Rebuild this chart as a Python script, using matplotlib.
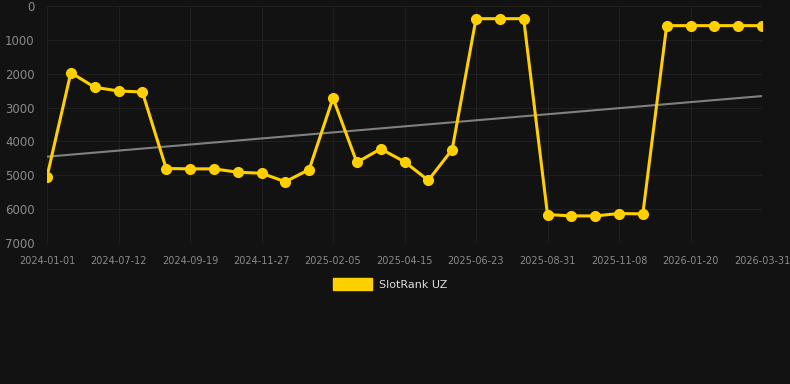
import numpy as np
import matplotlib
matplotlib.use("Agg")
import matplotlib.pyplot as plt

dates = ["2024-01-01", "2024-04-10", "2024-05-30", "2024-07-12", "2024-07-30",
         "2024-08-20", "2024-09-19", "2024-10-10", "2024-11-05", "2024-11-27",
         "2024-12-20", "2025-01-10", "2025-02-05", "2025-02-25", "2025-03-20",
         "2025-04-15", "2025-05-05", "2025-05-30", "2025-06-23", "2025-07-15",
         "2025-08-08", "2025-08-31", "2025-09-25", "2025-10-15", "2025-11-08",
         "2025-12-01", "2025-12-25", "2026-01-20", "2026-02-10", "2026-03-05",
         "2026-03-31"]
rank = [5040, 1970, 2400, 2510, 2540, 4800, 4810, 4810, 4910, 4940,
        5190, 4830, 2720, 4620, 4220, 4600, 5150, 4240, 375, 375,
        375, 6160, 6200, 6200, 6130, 6140, 580, 580, 580, 580, 580]
trend = [4450, 2660]  # start / end of trend line

bg = "#121212"
yellow = "#FFD000"

fig = plt.figure(figsize=(7.9, 3.84), dpi=100, facecolor=bg)
ax = fig.add_axes([47/790, 1 - 243/384, (762 - 47)/790, (243 - 6)/384])
ax.set_facecolor(bg)

x = np.arange(len(dates))
ax.plot([x[0], x[-1]], trend, color="#808080", lw=1.5, zorder=2)
ax.plot(x, rank, color=yellow, lw=2.2, marker="o", ms=7, zorder=3,
        label="SlotRank UZ")

ax.set_xlim(x[0], x[-1])
ax.set_ylim(7000, 0)
ax.set_yticks(range(0, 7001, 1000))
ax.set_xticks(x[::3])
ax.set_xticklabels(dates[::3])
ax.tick_params(axis="y", length=0, pad=9, labelsize=8.5, labelcolor="#8a8a8a")
ax.tick_params(axis="x", length=0, pad=9, labelsize=7, labelcolor="#8a8a8a")
ax.grid(True, color="#1f1f1f", lw=0.8)
for s in ax.spines.values():
    s.set_visible(False)

leg = fig.legend(handles=[plt.Rectangle((0, 0), 1, 1, color=yellow)],
                 labels=["SlotRank UZ"], loc="center", bbox_to_anchor=(390/790, 1 - 284/384),
                 frameon=False, fontsize=8, handlelength=3.5, handleheight=1.2,
                 handletextpad=0.6)
for t in leg.get_texts():
    t.set_color("#dddddd")

fig.savefig("out.png", dpi=100, facecolor=bg)
